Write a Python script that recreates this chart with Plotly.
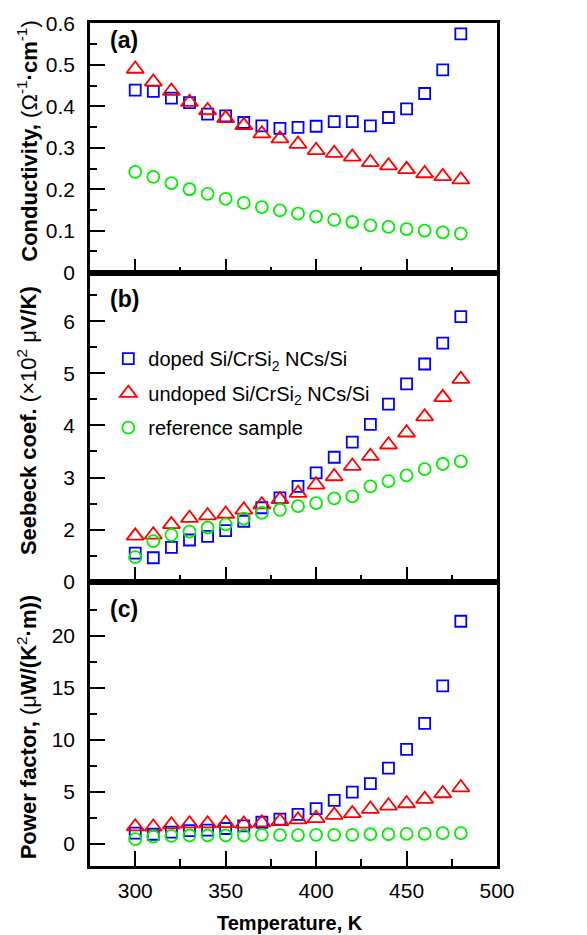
import plotly.graph_objects as go

# ---- data ----
temperature = [300, 310, 320, 330, 340, 350, 360, 370, 380, 390,
               400, 410, 420, 430, 440, 450, 460, 470, 480]

cond_doped = [0.439, 0.436, 0.420, 0.409, 0.381, 0.377, 0.361, 0.353, 0.347, 0.349,
              0.352, 0.363, 0.363, 0.353, 0.373, 0.394, 0.431, 0.488, 0.575]
cond_undoped = [0.490, 0.459, 0.437, 0.410, 0.390, 0.371, 0.354, 0.334, 0.322, 0.309,
                0.294, 0.287, 0.278, 0.265, 0.257, 0.248, 0.238, 0.231, 0.223]
cond_ref = [0.242, 0.230, 0.215, 0.200, 0.189, 0.177, 0.167, 0.157, 0.149, 0.141,
            0.134, 0.126, 0.121, 0.113, 0.109, 0.104, 0.100, 0.096, 0.093]

seeb_doped = [1.55, 1.46, 1.66, 1.80, 1.87, 1.98, 2.16, 2.42, 2.61, 2.83,
              3.09, 3.39, 3.68, 4.02, 4.41, 4.80, 5.18, 5.58, 6.09]
seeb_undoped = [1.88, 1.90, 2.10, 2.22, 2.27, 2.30, 2.38, 2.48, 2.58, 2.70,
                2.86, 3.02, 3.22, 3.41, 3.63, 3.86, 4.17, 4.54, 4.89]
seeb_ref = [1.47, 1.78, 1.90, 1.96, 2.04, 2.10, 2.21, 2.32, 2.38, 2.45,
            2.51, 2.60, 2.64, 2.83, 2.93, 3.04, 3.16, 3.26, 3.31]

pf_doped = [1.05, 0.95, 1.15, 1.3, 1.35, 1.5, 1.75, 2.1, 2.4, 2.85,
            3.4, 4.2, 5.0, 5.8, 7.3, 9.1, 11.6, 15.2, 21.4]
pf_undoped = [1.68, 1.65, 1.87, 1.97, 1.97, 2.0, 1.94, 2.06, 2.19, 2.35,
              2.48, 2.79, 2.95, 3.37, 3.68, 3.90, 4.32, 4.86, 5.43]
pf_ref = [0.48, 0.73, 0.79, 0.83, 0.83, 0.83, 0.83, 0.89, 0.86, 0.86,
          0.89, 0.89, 0.89, 0.95, 0.95, 0.98, 0.98, 1.05, 1.05]

series_names = ["doped Si/CrSi<sub>2</sub> NCs/Si",
                "undoped Si/CrSi<sub>2</sub> NCs/Si",
                "reference sample"]

x_tick_vals = [300, 350, 400, 450, 500]
x_minor_vals = [325, 375, 425, 475]
a_tick_vals = [0, 0.1, 0.2, 0.3, 0.4, 0.5, 0.6]
a_tick_text = ["0", "0.1", "0.2", "0.3", "0.4", "0.5", "0.6"]
a_minor_vals = [0.05, 0.15, 0.25, 0.35, 0.45, 0.55]
b_tick_vals = [1, 2, 3, 4, 5, 6]
b_tick_text = ["0", "2", "3", "4", "5", "6"]
b_minor_vals = [1.5, 2.5, 3.5, 4.5, 5.5, 6.5]
c_tick_vals = [0, 5, 10, 15, 20, 25]
c_tick_text = ["0", "5", "10", "15", "20", ""]
c_minor_vals = [2.5, 7.5, 12.5, 17.5, 22.5]

# ---- styles ----
FONT = "Liberation Sans, Arial, sans-serif"
colors = ["#0000ff", "#ff0000", "#00ee00"]
symbols = ["square-open", "triangle-up-open", "circle-open"]
sizes = [11, 15, 12]

fig = go.Figure()

panels = [
    ("x3", "y3", [cond_doped, cond_undoped, cond_ref], False),
    ("x2", "y2", [seeb_doped, seeb_undoped, seeb_ref], True),
    ("x", "y", [pf_doped, pf_undoped, pf_ref], False),
]
for xa, ya, ys, show in panels:
    for i, vals in enumerate(ys):
        fig.add_trace(go.Scatter(
            x=temperature, y=vals, mode="markers", xaxis=xa, yaxis=ya,
            name=series_names[i], showlegend=show, legendgroup=str(i),
            marker=dict(symbol=symbols[i], size=sizes[i], color=colors[i],
                        line=dict(color=colors[i], width=1.8)),
        ))

H_TOP, H_AB, H_BC, H_BOT = 21, 272, 581, 866
total = H_BOT - H_TOP
dom_c = [0, (H_BOT - H_BC) / total]
dom_b = [(H_BOT - H_BC) / total, (H_BOT - H_AB) / total]
dom_a = [(H_BOT - H_AB) / total, 1]

tickfont = dict(family=FONT, size=21, color="black")
common_axis = dict(showline=True, linecolor="black", linewidth=2.5, mirror=True,
                   ticks="inside", ticklen=15, tickwidth=2, tickcolor="black",
                   showgrid=False, zeroline=False, tickfont=tickfont)


def minor(vals):
    return dict(ticks="inside", ticklen=7, tickwidth=2, tickcolor="black",
                tickmode="array", tickvals=vals)


x_common = dict(common_axis, range=[275, 500], tickmode="array", tickvals=x_tick_vals,
                minor=minor(x_minor_vals))

fig.update_layout(
    xaxis=dict(x_common, anchor="y", showticklabels=True, ticklabelstandoff=4),
    xaxis2=dict(x_common, anchor="y2", matches="x", showticklabels=False),
    xaxis3=dict(x_common, anchor="y3", matches="x", showticklabels=False),
    yaxis=dict(common_axis, domain=dom_c, range=[-2.1, 25.2], tickmode="array",
               tickvals=c_tick_vals, ticktext=c_tick_text, ticklabelstandoff=8,
               minor=minor(c_minor_vals)),
    yaxis2=dict(common_axis, domain=dom_b, range=[1.0, 6.92], tickmode="array",
                tickvals=b_tick_vals, ticktext=b_tick_text, ticklabelstandoff=8,
                minor=minor(b_minor_vals)),
    yaxis3=dict(common_axis, domain=dom_a, range=[-0.003, 0.601], tickmode="array",
                tickvals=a_tick_vals, ticktext=a_tick_text, ticklabelstandoff=8,
                minor=minor(a_minor_vals)),
    width=587, height=935,
    margin=dict(l=90, r=90, t=H_TOP, b=935 - H_BOT),
    plot_bgcolor="white", paper_bgcolor="white",
    font=dict(family=FONT, color="black"),
    legend=dict(x=0.045, y=0.625, xanchor="left", yanchor="top",
                bgcolor="rgba(0,0,0,0)", font=dict(family=FONT, size=20, color="black"),
                tracegroupgap=5.5, itemwidth=30),
)

ann = []
title_x = (27 - 90) / 407
ann.append(dict(text="<b>Conductivity,</b> (Ω<sup>-1</sup><b>·cm</b><sup>-1</sup>)",
                x=title_x, y=1 - (140 - H_TOP) / total))
ann.append(dict(text="<b>Seebeck coef.</b> (×10<sup>2</sup> μ<b>V/K)</b>",
                x=title_x, y=1 - (420 - H_TOP) / total))
ann.append(dict(text="<b>Power factor,</b> (μ<b>W/(K</b><sup>2</sup><b>·m))</b>",
                x=title_x, y=1 - (727 - H_TOP) / total))
for a in ann:
    a.update(xref="paper", yref="paper", textangle=-90, showarrow=False,
             xanchor="center", yanchor="middle",
             font=dict(family=FONT, size=22, color="black"))
fig.update_layout(annotations=ann)

for lbl, ypx in [("(a)", 38), ("(b)", 298), ("(c)", 608)]:
    fig.add_annotation(text="<b>" + lbl + "</b>", xref="paper", yref="paper",
                       x=(124 - 90) / 407, y=1 - (ypx - H_TOP) / total,
                       showarrow=False, xanchor="center", yanchor="middle",
                       font=dict(family=FONT, size=23, color="black"))

fig.add_annotation(text="<b>Temperature, K</b>", xref="paper", yref="paper",
                   x=(290 - 90) / 407, y=1 - (923 - H_TOP) / total,
                   showarrow=False, xanchor="center", yanchor="middle",
                   font=dict(family=FONT, size=20, color="black"))

fig.write_html("out.html", config={"displayModeBar": False},
               post_script="document.body.style.margin='0';document.body.style.padding='0';")
